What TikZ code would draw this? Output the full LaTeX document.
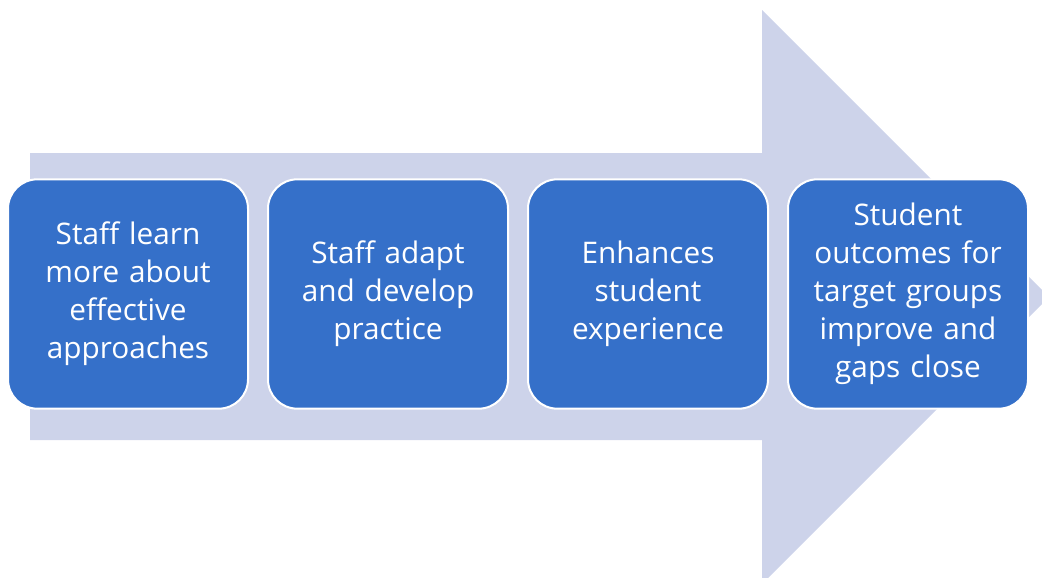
\documentclass[tikz,border=0pt]{standalone}
\usepackage{fontspec}
\setmainfont{Open Sans}
\usetikzlibrary{positioning}
\definecolor{shaftblue}{RGB}{205,211,234}
\definecolor{stepblue}{RGB}{53,112,201}

\begin{document}
\begin{tikzpicture}[x=0.75pt,y=-0.75pt,node distance=13.5pt,
  font=\fontsize{22.3}{28.5}\selectfont,
  stage/.style={draw=white,line width=1.5pt,fill=stepblue,text=white,rounded corners=22pt,
    align=center,text width=170pt,minimum width=180pt,minimum height=172pt,inner sep=0pt}]
\useasboundingbox (0,0) rectangle (1042,578);
% big arrow behind the steps
\fill[shaftblue] (30,153) -- (762,153) -- (762,10) -- (1049,297) -- (762,584)
  -- (762,440) -- (30,440) -- cycle;
\node[stage] (learn) at (128,294) {Staff learn\\more about\\effective\\approaches};
\node[stage,right=of learn] (adapt) {Staff adapt\\and develop\\practice};
\node[stage,right=of adapt] (enhance) {Enhances\\student\\experience};
\node[stage,right=of enhance] (outcome) {Student\\outcomes for\\target groups\\improve and\\gaps close};
\end{tikzpicture}
\end{document}
